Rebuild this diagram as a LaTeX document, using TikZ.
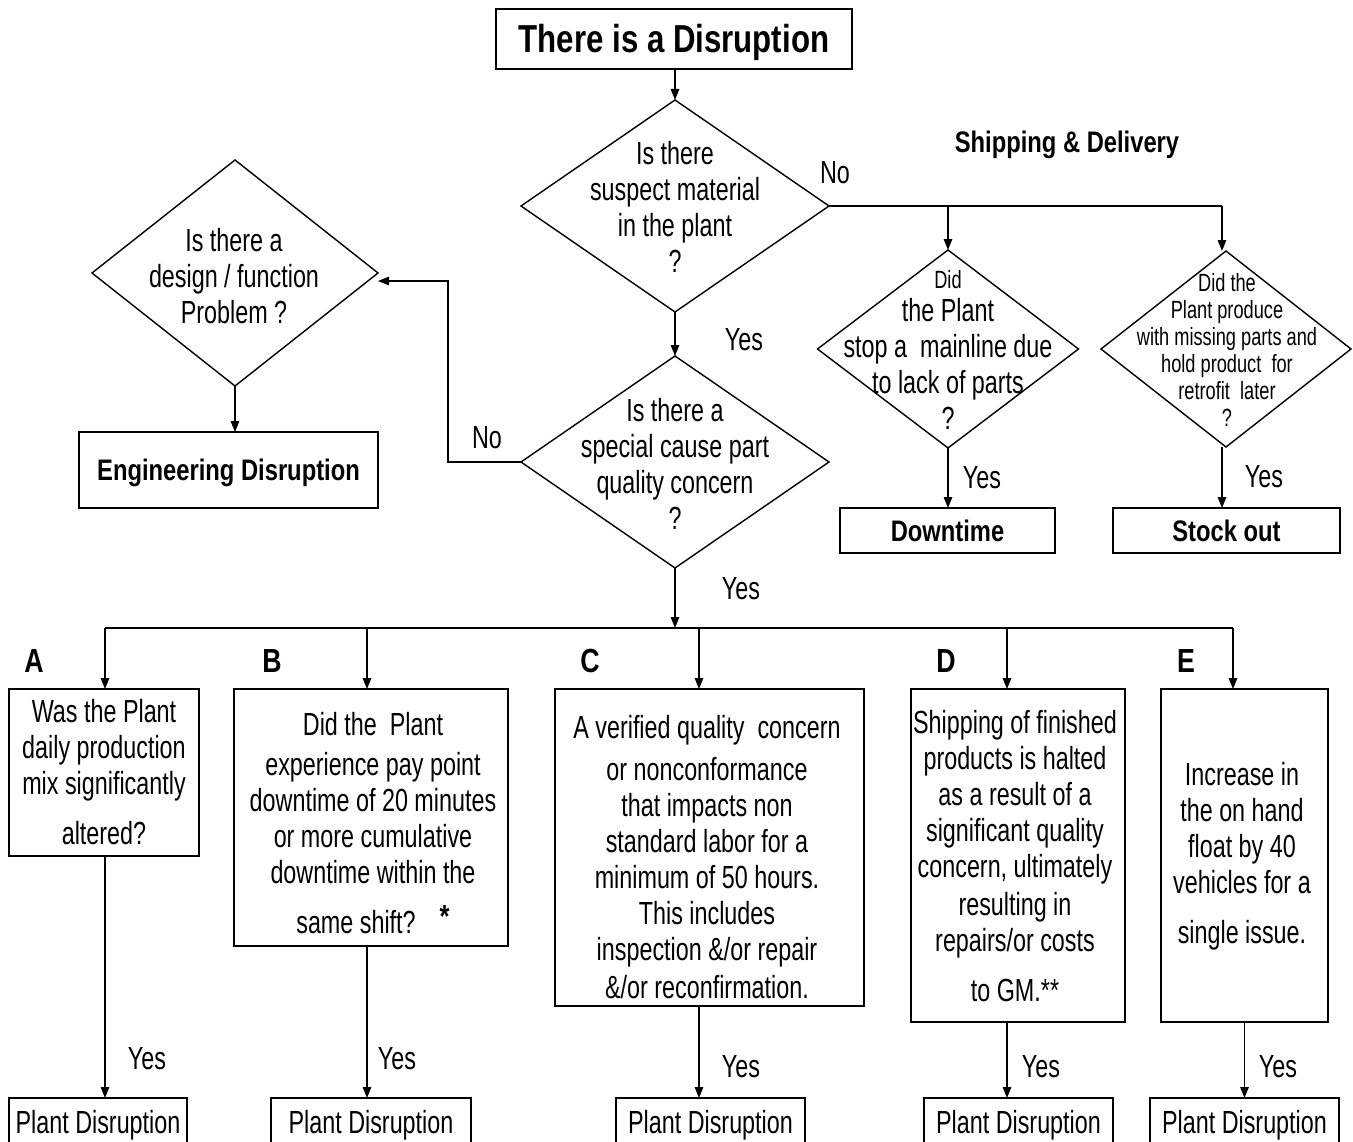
\documentclass[tikz,border=0pt]{standalone}
\usepackage{fontspec}
\setmainfont{Liberation Sans}[FakeStretch=0.73]
\newfontfamily\bfnt{Liberation Sans}[FakeStretch=0.8]
\usetikzlibrary{arrows.meta,shapes.geometric,calc}
\newlength\pu
\setlength\pu{0.02cm}
\tikzset{
  every node/.style={inner sep=0pt, outer sep=0pt},
  ln/.style={line width=0.8pt, draw=black},
  arr/.style={ln, -{Triangle[length=0.22cm,width=0.17cm]}},
  box/.style={draw=black, line width=0.8pt, rectangle},
  dia/.style={draw=black, line width=0.8pt, diamond},
  reg/.style={font=\fontsize{18.2}{20.5}\selectfont, align=center},
  sm/.style={font=\fontsize{14.2}{15.4}\selectfont, align=center},
  bld/.style={font=\bfnt\bfseries\fontsize{16.9}{19}\selectfont, text height=12.1pt, text depth=0pt},
  ttl/.style={font=\bfnt\bfseries\fontsize{22.2}{26}\selectfont, text height=15.9pt, text depth=0pt},
  let/.style={font=\bfnt\bfseries\fontsize{19}{22}\selectfont, text height=13.6pt, text depth=0pt},
  pdr/.style={font=\fontsize{18.2}{20.5}\selectfont, text height=13pt, text depth=0pt},
}
\begin{document}
\begin{tikzpicture}[x=0.02cm, y=-0.02cm]
\useasboundingbox (0,0) rectangle (1353,1142);
\clip (0,0) rectangle (1353,1142);
\fill[white] (0,0) rectangle (1353,1142);

% top
\node[box, ttl, minimum width=356*\pu, minimum height=60*\pu] (top) at (674,39) {There is a Disruption};
\node[bld] (ship) at (1067,142) {Shipping \& Delivery};

% diamonds
\node[dia, minimum width=308*\pu, minimum height=212*\pu] (d1) at (675,206) {};
\node[reg] (d1t) at (675,207) {Is there\\suspect material\\in the plant\\?};
\node[dia, minimum width=308*\pu, minimum height=212*\pu] (d4) at (675,462) {};
\node[reg] (d4t) at (675,464) {Is there a\\special cause part\\quality concern\\?};
\node[dia, minimum width=286*\pu, minimum height=226*\pu] (d5) at (235,273) {};
\node[reg] (d5t) at (234,276) {Is there a\\design / function\\Problem ?};
\node[dia, minimum width=261*\pu, minimum height=198*\pu] (d2) at (948,349) {};
\node[reg] (d2t) at (948,350) {{\fontsize{14.2}{15}\selectfont Did}\\[-2pt]the Plant\\stop a~~mainline due\\to lack of parts\\?};
\node[dia, minimum width=250*\pu, minimum height=196*\pu] (d3) at (1226,349) {};
\node[sm] (d3t) at (1227,350) {Did the\\Plant produce\\with missing parts and\\hold product~~for\\retrofit~~later\\?};

% result boxes (upper)
\node[box, bld, minimum width=299*\pu, minimum height=76*\pu] (eng) at (228.5,470) {Engineering Disruption};
\node[box, bld, minimum width=215*\pu, minimum height=45*\pu] (down) at (947.5,530.5) {Downtime};
\node[box, bld, minimum width=227*\pu, minimum height=45*\pu] (stock) at (1226.5,530.5) {Stock out};

% labels
\node[reg] (no1) at (835,173) {No};
\node[reg] (no2) at (487,438) {No};
\node[reg] (y1) at (744,340) {Yes};
\node[reg] (y2) at (741,589) {Yes};
\node[reg] (y3) at (982,478) {Yes};
\node[reg] (y4) at (1264,477) {Yes};

% bus coordinates
\coordinate (j1) at (948,206);
\coordinate (j2) at (1222,206);
\coordinate (bus) at (675,628);
\coordinate (cA) at (105,628);
\coordinate (cB) at (367,628);
\coordinate (cC) at (699,628);
\coordinate (cD) at (1007,628);
\coordinate (cE) at (1233,628);

% letters
\node[let] (LA) at (34,661) {A};
\node[let] (LB) at (272,661) {B};
\node[let] (LC) at (590,661) {C};
\node[let] (LD) at (946,661) {D};
\node[let] (LE) at (1186,661) {E};

% criteria boxes
\node[box, minimum width=190*\pu, minimum height=167*\pu] (bA) at (104,772.5) {};
\node[reg] (tA) at (104,772) {Was the Plant\\daily production\\mix significantly\\[8pt]altered?};
\node[box, minimum width=274*\pu, minimum height=257*\pu] (bB) at (371,817.5) {};
\node[reg] (tB) at (373,823) {Did the~~Plant\\[2pt]experience pay point\\downtime of 20 minutes\\or more cumulative\\downtime within the\\[8pt]same shift?\hspace{24\pu}\raisebox{6\pu}{\bfnt\bfseries *}};
\node[box, minimum width=309*\pu, minimum height=317*\pu] (bC) at (709.5,847.5) {};
\node[reg] (tC) at (707,857) {A verified quality~~concern\\[3pt]or nonconformance\\that impacts non\\standard labor for a\\minimum of 50 hours.\\This includes\\inspection \&/or repair\\[1pt]\&/or reconfirmation.};
\node[box, minimum width=214*\pu, minimum height=333*\pu] (bD) at (1018,855.5) {};
\node[reg] (tD) at (1015,856) {Shipping of finished\\products is halted\\as a result of a\\significant quality\\concern, ultimately\\[1pt]resulting in\\repairs/or costs\\[8pt]to GM.**};
\node[box, minimum width=167*\pu, minimum height=333*\pu] (bE) at (1244.5,855.5) {};
\node[reg] (tE) at (1242,856) {Increase in\\the on hand\\float by 40\\vehicles for a\\[8pt]single issue.};

% plant disruption boxes
\node[box, pdr, minimum width=178*\pu, minimum height=48*\pu] (pA) at (98,1122) {Plant Disruption};
\node[box, pdr, minimum width=200*\pu, minimum height=48*\pu] (pB) at (371,1122) {Plant Disruption};
\node[box, pdr, minimum width=189*\pu, minimum height=48*\pu] (pC) at (710.5,1122) {Plant Disruption};
\node[box, pdr, minimum width=189*\pu, minimum height=48*\pu] (pD) at (1018.5,1122) {Plant Disruption};
\node[box, pdr, minimum width=189*\pu, minimum height=48*\pu] (pE) at (1244.5,1122) {Plant Disruption};

\node[reg] (yA) at (147,1059) {Yes};
\node[reg] (yB) at (397,1059) {Yes};
\node[reg] (yC) at (741,1067) {Yes};
\node[reg] (yD) at (1041,1067) {Yes};
\node[reg] (yE) at (1278,1067) {Yes};

% connectors
\draw[arr] (d1.north |- top.south) -- (d1.north);
\draw[ln] (d1.east) -- (j2);
\draw[arr] (j1) -- (d2.north);
\draw[arr] (j2) -- (j2 |- d3.north);
\draw[arr] (d2.south) -- (d2.south |- down.north);
\draw[arr] (j2 |- d3.south) -- (j2 |- stock.north);
\draw[arr] (d1.south) -- (d4.north);
\draw[arr] (d4.west) -- ++(-73,0) |- ([yshift=-0.16cm]d5.east);
\draw[arr] (d5.south) -- (d5.south |- eng.north);
\draw[arr] (d4.south) -- (bus);
\draw[ln] (cA) -- (cE);
\draw[arr] (cA) -- (cA |- bA.north);
\draw[arr] (cB) -- (cB |- bB.north);
\draw[arr] (cC) -- (cC |- bC.north);
\draw[arr] (cD) -- (cD |- bD.north);
\draw[arr] (cE) -- (cE |- bE.north);
\draw[arr] (cA |- bA.south) -- (cA |- pA.north);
\draw[arr] (cB |- bB.south) -- (cB |- pB.north);
\draw[arr] (cC |- bC.south) -- (cC |- pC.north);
\draw[arr] (cD |- bD.south) -- (cD |- pD.north);
\draw[arr] (bE.south) -- (bE.south |- pE.north);
\end{tikzpicture}
\end{document}
